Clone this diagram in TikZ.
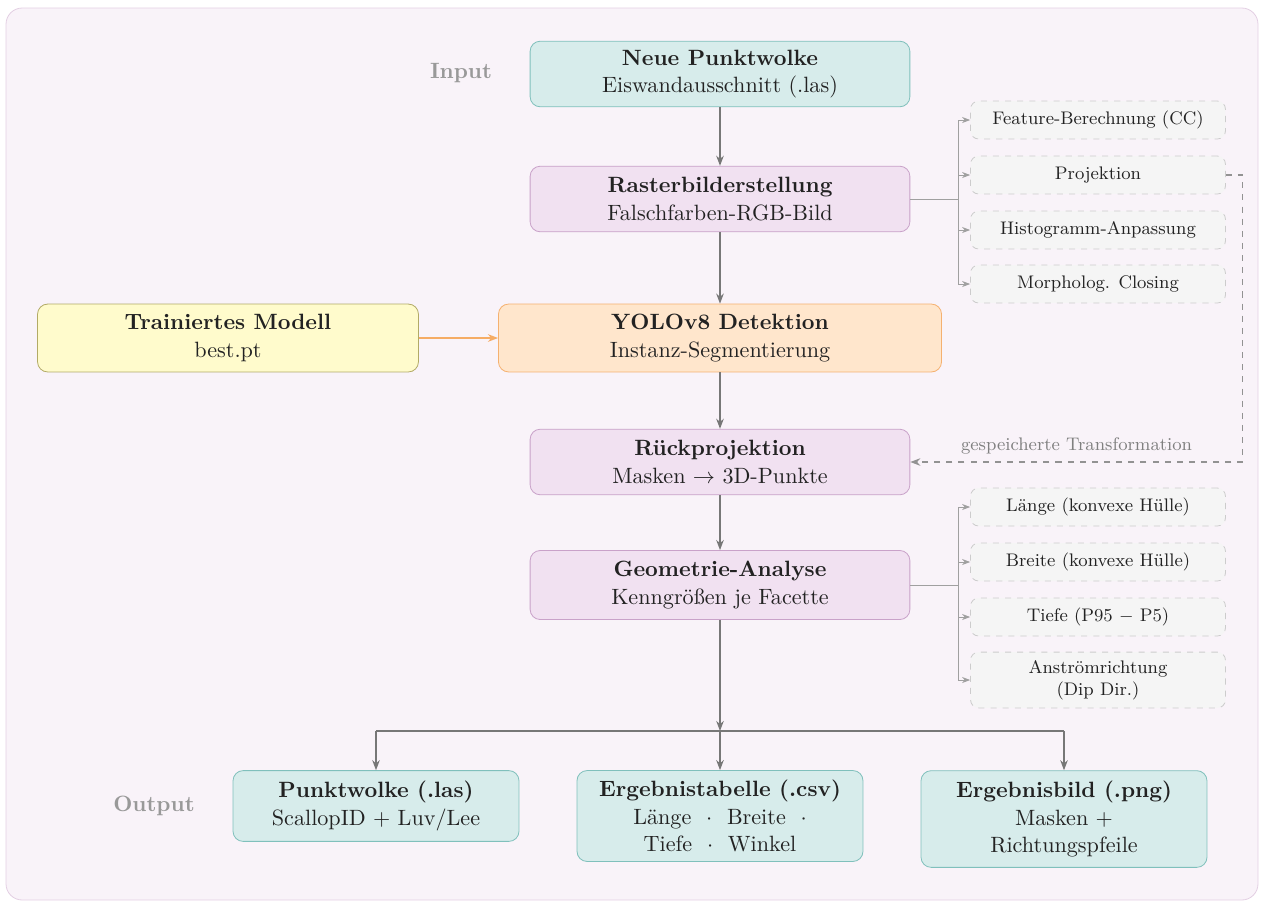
\documentclass[tikz,border=0pt,11pt]{standalone}
\usepackage{tikz}
\usetikzlibrary{positioning, calc, arrows.meta}
\definecolor{bgfill}{HTML}{F9F3F9}
\definecolor{bgline}{HTML}{E3CFE3}
\definecolor{tealfill}{HTML}{D7ECEB}
\definecolor{tealline}{HTML}{80C0BC}
\definecolor{lilafill}{HTML}{F1E1F1}
\definecolor{lilaline}{HTML}{C9A2C9}
\definecolor{orfill}{HTML}{FFE6CC}
\definecolor{orline}{HTML}{F5B170}
\definecolor{gefill}{HTML}{FFFBCC}
\definecolor{geline}{HTML}{B2AA66}
\definecolor{sidefill}{HTML}{F5F5F5}
\definecolor{sideline}{HTML}{CCCCCC}
\definecolor{pfeil}{HTML}{777777}
\definecolor{textdark}{HTML}{222222}
\tikzset{
  box/.style={rounded corners=5pt, draw, align=center, text=textdark,
    minimum width=6.6cm, minimum height=1.14cm, inner sep=3pt},
  ein/.style={box, fill=tealfill, draw=tealline},
  proz/.style={box, fill=lilafill, draw=lilaline},
  aus/.style={box, fill=tealfill, draw=tealline, minimum width=4.97cm, minimum height=1.23cm},
  seite/.style={rounded corners=4pt, draw=sideline, dashed, fill=sidefill, align=center,
    font=\footnotesize, text=textdark, minimum width=4.43cm, minimum height=0.66cm, inner sep=2pt},
  marke/.style={font=\bfseries, text=gray!80},
  fluss/.style={-{Stealth[length=5pt]}, draw=pfeil, line width=0.7pt},
  ast/.style={-{Stealth[length=4pt]}, draw=pfeil!70, line width=0.4pt},
}
\begin{document}
\begin{tikzpicture}[x=0.01738cm, y=-0.01738cm]
  \useasboundingbox (0,0) rectangle (1266,906);
  \draw[rounded corners=8pt, fill=bgfill, draw=bgline] (6,8) rectangle (1258,900);

  % Hauptkette
  \node[ein] (neu) at (720,74) {\textbf{Neue Punktwolke}\\Eiswandausschnitt (.las)};
  \node[proz] (raster) at (720,199) {\textbf{Rasterbilderstellung}\\Falschfarben-RGB-Bild};
  \node[box, fill=orfill, draw=orline, minimum width=7.7cm, minimum height=1.18cm] (yolo) at (720,338) {\textbf{YOLOv8 Detektion}\\Instanz-Segmentierung};
  \node[box, fill=gefill, draw=geline, minimum width=6.62cm, minimum height=1.18cm] (modell) at (228,338) {\textbf{Trainiertes Modell}\\best.pt};
  \node[proz] (rueck) at (720,462) {\textbf{R\"uckprojektion}\\Masken $\rightarrow$ 3D-Punkte};
  \node[proz, minimum height=1.2cm] (geom) at (720,585) {\textbf{Geometrie-Analyse}\\Kenngr\"o\ss en je Facette};

  \node[marke] (lin) at (461,73) {Input};
  \node[marke] (lout) at (154,806) {Output};

  % Ausgaben
  \node[aus] (outlas) at (376,806) {\textbf{Punktwolke (.las)}\\ScallopID + Luv/Lee};
  \node[aus, minimum height=1.58cm] (outcsv) at (720,816) {\textbf{Ergebnistabelle (.csv)}\\L\"ange \ $\cdot$ \ Breite \ $\cdot$\\Tiefe \ $\cdot$ \ Winkel};
  \node[aus, minimum height=1.68cm] (outpng) at (1064,819) {\textbf{Ergebnisbild (.png)}\\Masken +\\Richtungspfeile};

  % Nebenschritte
  \node[seite] (feat) at (1098,120) {Feature-Berechnung (CC)};
  \node[seite] (proj) at (1098,175) {Projektion};
  \node[seite] (hist) at (1098,230) {Histogramm-Anpassung};
  \node[seite] (morph) at (1098,284) {Morpholog. Closing};
  \node[seite] (laenge) at (1098,507) {L\"ange (konvexe H\"ulle)};
  \node[seite] (breite) at (1098,562) {Breite (konvexe H\"ulle)};
  \node[seite] (tiefe) at (1098,617) {Tiefe (P95 $-$ P5)};
  \node[seite, minimum height=0.97cm] (anstr) at (1098,680) {Anstr\"omrichtung\\(Dip Dir.)};

  \coordinate (rv) at (958,199);
  \coordinate (gv) at (958,585);
  \coordinate (split) at (720,731);

  \draw[fluss] (neu) -- (raster);
  \draw[fluss] (raster) -- (yolo);
  \draw[fluss] (yolo) -- (rueck);
  \draw[fluss] (rueck) -- (geom);
  \draw[-{Stealth[length=5pt]}, draw=orline!90!orange, line width=1.2pt] (modell) -- (yolo);

  \draw[pfeil!70, line width=0.4pt] (raster.east) -- (rv);
  \foreach \n in {feat, proj, hist, morph}
    \draw[ast] (rv) |- (\n.west);
  \draw[pfeil!70, line width=0.4pt] (geom.east) -- (gv);
  \foreach \n in {laenge, breite, tiefe, anstr}
    \draw[ast] (gv) |- (\n.west);

  \draw[-{Stealth[length=5pt]}, draw=pfeil!80, dashed, line width=0.6pt]
    (proj.east) -- ++(17,0) |- (rueck.east)
    node[pos=0.75, above, font=\footnotesize, text=gray] {gespeicherte Transformation};

  \draw[fluss] (geom) -- (split);
  \draw[pfeil, line width=0.7pt] (outlas.north |- split) -- (outpng.north |- split);
  \draw[fluss] (outlas.north |- split) -- (outlas.north);
  \draw[fluss] (split) -- (outcsv.north);
  \draw[fluss] (outpng.north |- split) -- (outpng.north);
\end{tikzpicture}
\end{document}
